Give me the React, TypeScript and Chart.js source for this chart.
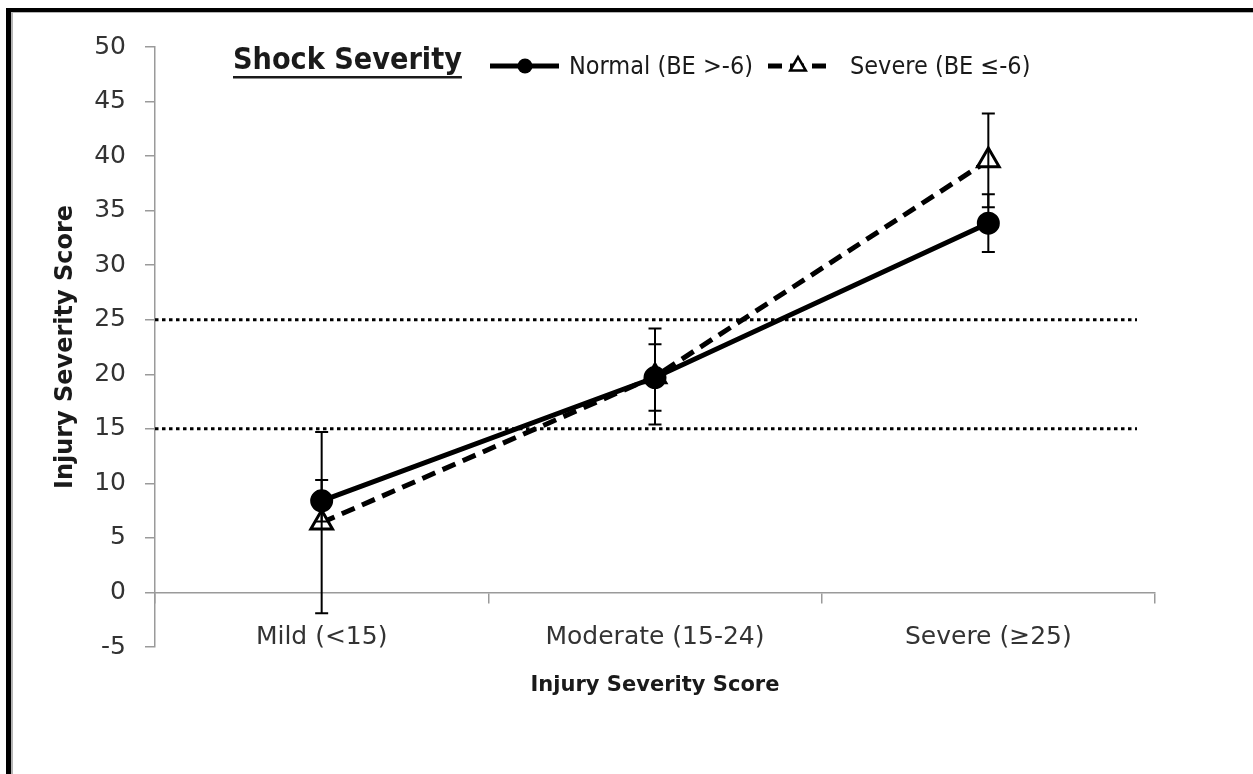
import React, { useEffect, useRef } from "react";
import { Chart, registerables } from "chart.js";
import { drawPoint } from "chart.js/helpers";

Chart.register(...registerables);

// ---------------- data ----------------
const categories = ["Mild (<15)", "Moderate (15-24)", "Severe (≥25)"];
const seriesNames = ["Normal (BE >-6)", "Severe (BE ≤-6)"];
const normalMeans = [8.4, 19.7, 33.85];
const normalErrors = [1.9, 3.05, 2.65];
const severeMeans = [6.4, 19.8, 39.6];
const severeErrors = [8.3, 4.4, 4.3];
const yMin = -5;
const yMax = 50;
const yStep = 5;
const referenceLines = [15, 25];
const chartTitle = "Shock Severity";
const xTitle = "Injury Severity Score";
const yTitle = "Injury Severity Score";

const REG = "'DejaVu Sans'";
const COND = "'DejaVu Sans Condensed', 'DejaVu Sans'";

function fitFont(text: string, weight: string, family: string, target: number) {
  const ctx = document.createElement("canvas").getContext("2d")!;
  ctx.font = `${weight} 100px ${family}`;
  return (100 * target) / ctx.measureText(text).width;
}

const errorBarsPlugin = {
  id: "errorBars",
  afterDatasetsDraw(chart: any) {
    const ctx = chart.ctx;
    const ys = chart.scales.y;
    ctx.save();
    ctx.strokeStyle = "#000";
    ctx.lineWidth = 2;
    ctx.setLineDash([]);
    chart.data.datasets.forEach((ds: any, i: number) => {
      const meta = chart.getDatasetMeta(i);
      meta.data.forEach((pt: any, j: number) => {
        const v = ds.data[j];
        const e = ds.errors[j];
        const x = pt.x;
        const t = ys.getPixelForValue(v + e);
        const b = ys.getPixelForValue(v - e);
        ctx.beginPath();
        ctx.moveTo(x, t);
        ctx.lineTo(x, b);
        ctx.moveTo(x - 6.5, t);
        ctx.lineTo(x + 6.5, t);
        ctx.moveTo(x - 6.5, b);
        ctx.lineTo(x + 6.5, b);
        ctx.stroke();
      });
    });
    ctx.restore();
  },
};

const refLinesPlugin = {
  id: "refLines",
  beforeDatasetsDraw(chart: any) {
    const ctx = chart.ctx;
    const ys = chart.scales.y;
    const a = chart.chartArea;
    ctx.save();
    ctx.strokeStyle = "#000";
    ctx.lineWidth = 3;
    ctx.setLineDash([3.5, 3.5]);
    referenceLines.forEach((v) => {
      const y = ys.getPixelForValue(v);
      ctx.beginPath();
      ctx.moveTo(a.left, y);
      ctx.lineTo(a.right - 18, y);
      ctx.stroke();
    });
    ctx.restore();
  },
};

function makeLegendPlugin(titleSize: number, legendSize: number) {
  return {
    id: "titleLegend",
    afterDraw(chart: any) {
      const ctx = chart.ctx;
      ctx.save();
      // title
      ctx.fillStyle = "#1a1a1a";
      ctx.font = `bold ${titleSize}px ${COND}`;
      ctx.textBaseline = "middle";
      ctx.textAlign = "left";
      ctx.fillText(chartTitle, 233, 61);
      const tw = ctx.measureText(chartTitle).width;
      ctx.fillRect(233, 76, tw, 2.5);

      const ly = 66;
      const dsets = chart.data.datasets;
      // series 1 sample
      ctx.strokeStyle = "#000";
      ctx.fillStyle = "#000";
      ctx.lineWidth = dsets[0].borderWidth;
      ctx.setLineDash([]);
      ctx.beginPath();
      ctx.moveTo(490, ly);
      ctx.lineTo(559, ly);
      ctx.stroke();
      drawPoint(ctx, { pointStyle: "circle", radius: 7.5, borderWidth: 0, rotation: 0 } as any, 525, ly);
      // series 2 sample
      ctx.lineWidth = dsets[1].borderWidth;
      ctx.setLineDash(dsets[1].borderDash);
      ctx.beginPath();
      ctx.moveTo(768, ly);
      ctx.lineTo(827, ly);
      ctx.stroke();
      ctx.setLineDash([]);
      ctx.fillStyle = "#fff";
      ctx.lineWidth = 2.5;
      drawPoint(ctx, { pointStyle: "triangle", radius: 9, borderWidth: 2.5, rotation: 0 } as any, 798, ly);

      ctx.fillStyle = "#1a1a1a";
      ctx.font = `${legendSize}px ${COND}`;
      ctx.fillText(dsets[0].label, 569, 68);
      ctx.fillText(dsets[1].label, 850, 68);
      ctx.restore();
    },
  };
}

export default function App() {
  const ref = useRef<HTMLCanvasElement>(null);
  useEffect(() => {
    const titleSize = fitFont(chartTitle, "bold", COND, 229);
    const legendSize = fitFont(seriesNames[0], "normal", COND, 184);
    const xTitleSize = fitFont(xTitle, "bold", REG, 249);
    const yTitleSize = fitFont(yTitle, "bold", REG, 284);

    const chart = new Chart(ref.current!, {
      type: "line",
      data: {
        labels: categories,
        datasets: [
          {
            label: seriesNames[0],
            data: normalMeans,
            errors: normalErrors,
            borderColor: "#000",
            borderWidth: 5,
            pointStyle: "circle",
            pointRadius: 10.5,
            pointBackgroundColor: "#000",
            pointBorderColor: "#000",
            pointBorderWidth: 2,
            tension: 0,
          } as any,
          {
            label: seriesNames[1],
            data: severeMeans,
            errors: severeErrors,
            borderColor: "#000",
            borderWidth: 5,
            borderDash: [14, 8],
            pointStyle: "triangle",
            pointRadius: 12.5,
            pointBackgroundColor: "#fff",
            pointBorderColor: "#000",
            pointBorderWidth: 3,
            tension: 0,
          } as any,
        ],
      },
      options: {
        responsive: false,
        animation: false,
        layout: { padding: { left: 0, top: 47, right: 98, bottom: 127 } },
        plugins: {
          legend: { display: false },
          title: { display: false },
          tooltip: { enabled: false },
        },
        scales: {
          x: {
            type: "category",
            position: { y: 0 } as any,
            offset: true,
            grid: {
              offset: true,
              drawOnChartArea: false,
              drawTicks: true,
              tickLength: 10,
              color: "#9a9a9a",
              lineWidth: 1.5,
            },
            border: { display: true, color: "#9a9a9a", width: 1.5 },
            ticks: {
              color: "#333",
              font: { family: REG, size: 25, lineHeight: 1.2 },
              padding: 20,
              maxRotation: 0,
            },
            title: {
              display: true,
              text: xTitle,
              color: "#1a1a1a",
              font: { family: REG, weight: "bold", size: xTitleSize, lineHeight: 1.2 },
              padding: { top: 0, bottom: 0 },
            },
          },
          y: {
            type: "linear",
            min: yMin,
            max: yMax,
            afterFit: (scale: any) => {
              scale.width = 155;
            },
            ticks: {
              stepSize: yStep,
              color: "#333",
              font: { family: REG, size: 25, lineHeight: 1.2 },
              padding: 19,
            },
            grid: {
              drawOnChartArea: false,
              drawTicks: true,
              tickLength: 10,
              color: "#9a9a9a",
              lineWidth: 1.5,
            },
            border: { display: true, color: "#9a9a9a", width: 1.5 },
            title: {
              display: true,
              text: yTitle,
              color: "#1a1a1a",
              font: { family: REG, weight: "bold", size: yTitleSize, lineHeight: 1.2 },
              padding: { top: 66 - yTitleSize * 0.6, bottom: 0 },
            },
          },
        },
      },
      plugins: [refLinesPlugin, errorBarsPlugin, makeLegendPlugin(titleSize, legendSize)],
    } as any);
    return () => chart.destroy();
  }, []);

  return (
    <div style={{ position: "absolute", left: 0, top: 0, width: 1253, height: 774, background: "#fff", overflow: "hidden" }}>
      <div
        style={{
          position: "absolute",
          left: 6,
          top: 8,
          right: 0,
          bottom: 0,
          borderLeft: "5px solid #000",
          borderTop: "4px solid #000",
          boxShadow: "inset 2px 1px 0 #b5b5b5",
        }}
      />
      <canvas
        ref={ref}
        width={1253}
        height={774}
        style={{ position: "absolute", left: 0, top: 0, width: 1253, height: 774 }}
      />
    </div>
  );
}
